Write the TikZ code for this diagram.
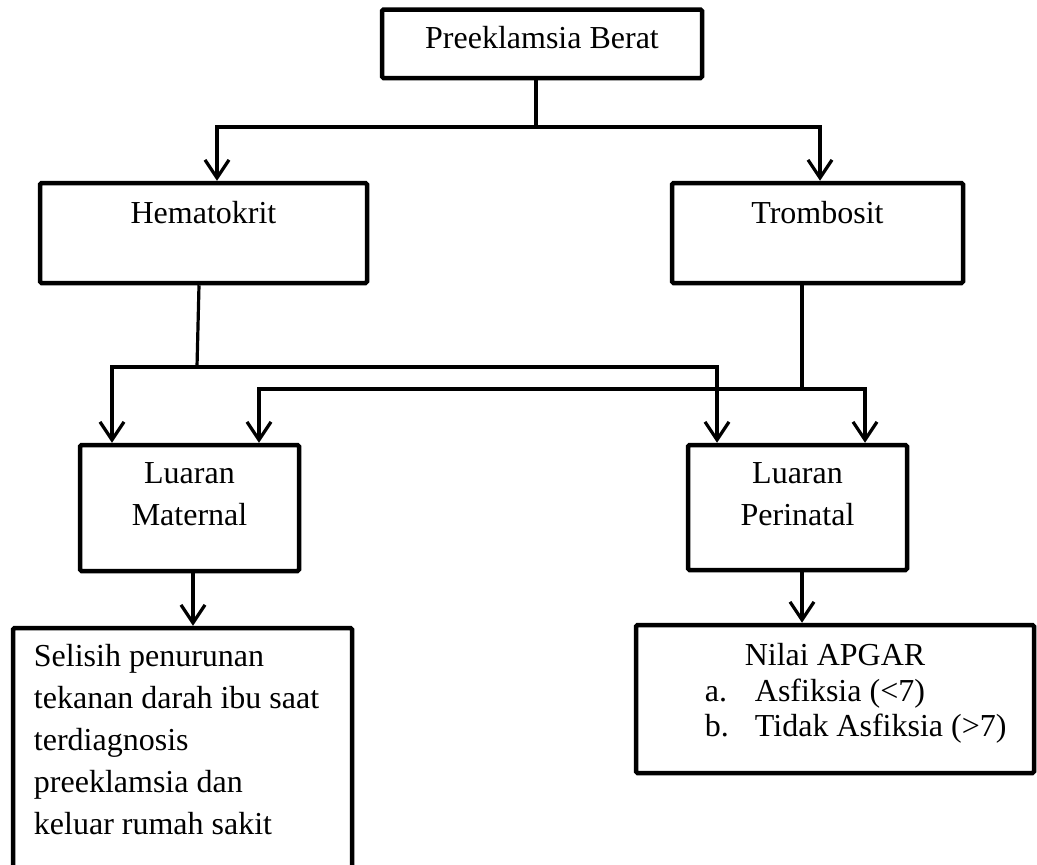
\documentclass[tikz,border=0pt]{standalone}
\usepackage{fontspec}
\setmainfont{Liberation Serif}
\usetikzlibrary{arrows.meta,positioning}

\tikzset{
  box/.style={rectangle, draw, line width=4.5pt, rounded corners=1.5pt, inner sep=0pt},
  boxtext/.style={inner sep=0pt, font=\fontsize{32}{42}\selectfont, align=center},
  conn/.style={line width=3.2pt},
  arr/.style={conn, -{Straight Barb[length=18pt, width=24pt]}}
}

\begin{document}
\begin{tikzpicture}[x=1pt, y=-1pt]
  \useasboundingbox (0,0) rectangle (1037,865);

  % boxes
  \node[box, minimum width=320pt, minimum height=68.5pt] at (542,43.75) (pre) {};
  \node[box, minimum width=327pt, minimum height=100pt] at (203.5,233) (hema) {};
  \node[box, minimum width=291pt, minimum height=100pt] at (817.5,233) (trom) {};
  \node[box, minimum width=219pt, minimum height=126pt] at (189.5,508) (mat) {};
  \node[box, minimum width=219pt, minimum height=125pt] at (797.5,507.5) (peri) {};
  \node[box, minimum width=339pt, minimum height=252pt] at (182.5,754) (sel) {};
  \node[box, minimum width=398pt, minimum height=148pt] at (835,699) (apgar) {};

  % texts
  \node[boxtext, below=18.5pt of pre.north] (preT) {Preeklamsia Berat};
  \node[boxtext, below=20pt of hema.north] (hemaT) {Hematokrit};
  \node[boxtext, below=20pt of trom.north] (tromT) {Trombosit};
  \node[boxtext, below=20pt of mat.north] (matT) {Luaran\\Maternal};
  \node[boxtext, below=20pt of peri.north] (periT) {Luaran\\Perinatal};
  \node[boxtext, align=left, below right=18pt and 23pt of sel.north west] (selT)
    {Selisih penurunan\\tekanan darah ibu saat\\terdiagnosis\\preeklamsia dan\\keluar rumah sakit};
  \node[boxtext, below=20pt of apgar.north] (apgarT) {Nilai APGAR};
  \node[boxtext, align=left, font=\fontsize{32}{35}\selectfont,
        below right=56pt and 71pt of apgar.north west] (apgarL)
    {\makebox[50pt][l]{a.}Asfiksia (<7)\\\makebox[50pt][l]{b.}Tidak Asfiksia (>7)};

  % junctions
  \coordinate (preJ) at (536,127);
  \coordinate (hemaJ) at (197,367);
  \coordinate (tromJ) at (802,389);
  \coordinate[xshift=3.5pt] (matOut) at (mat.south);
  \coordinate[xshift=4.5pt] (periOut) at (peri.south);

  % connectors
  \draw[conn] (pre.south -| preJ) -- (preJ);
  \draw[arr] (preJ) -| ([xshift=13.5pt]hema.north);
  \draw[arr] (preJ) -| ([xshift=2.5pt]trom.north);

  \draw[conn] ([xshift=-4.5pt]hema.south) -- (hemaJ);
  \draw[arr] (hemaJ) -| ([xshift=-77.5pt]mat.north);
  \draw[arr] (hemaJ) -| ([xshift=-80.5pt]peri.north);

  \draw[conn] ([xshift=-15.5pt]trom.south) -- (tromJ);
  \draw[arr] (tromJ) -| ([xshift=69.5pt]mat.north);
  \draw[arr] (tromJ) -| ([xshift=67.5pt]peri.north);

  \draw[arr] (matOut) -- (matOut |- sel.north);
  \draw[arr] (periOut) -- (periOut |- apgar.north);
\end{tikzpicture}
\end{document}
